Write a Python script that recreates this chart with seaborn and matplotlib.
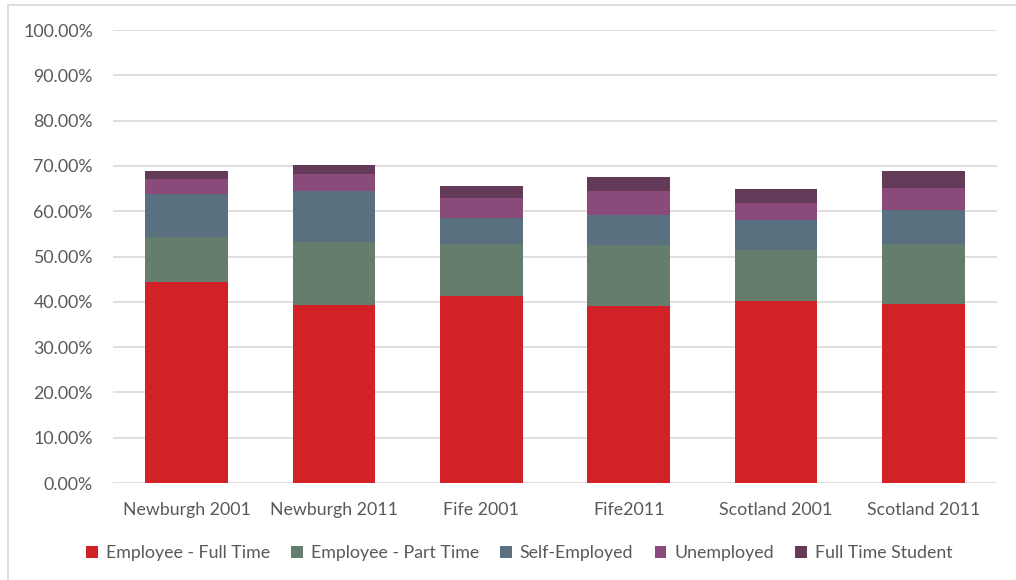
import matplotlib
matplotlib.use("Agg")
import matplotlib.pyplot as plt
import seaborn as sns
import pandas as pd
import numpy as np
from matplotlib.patches import Patch
from matplotlib.ticker import FuncFormatter

categories = ["Newburgh 2001", "Newburgh 2011", "Fife 2001", "Fife2011", "Scotland 2001", "Scotland 2011"]
full_time = [44.3, 39.3, 41.2, 39.1, 40.2, 39.6]
part_time = [10.1, 14.0, 11.6, 13.4, 11.2, 13.2]
self_employed = [9.5, 11.1, 5.7, 6.7, 6.6, 7.5]
unemployed = [3.1, 3.8, 4.5, 5.2, 3.8, 4.8]
student = [1.9, 2.1, 2.6, 3.1, 3.1, 3.8]

series_names = ["Employee - Full Time", "Employee - Part Time", "Self-Employed", "Unemployed", "Full Time Student"]
series_vals = [full_time, part_time, self_employed, unemployed, student]
colors = ["#D22127", "#657D6D", "#587080", "#8A4A7A", "#633A58"]

sns.set_theme(style="white")
plt.rcParams["font.family"] = ["Lato", "DejaVu Sans"]

fig = plt.figure(figsize=(10.16, 5.8), dpi=100)
ax = fig.add_axes([113/1016, 1 - 483/580, (997 - 113)/1016, (483 - 30)/580])

bottom = np.zeros(len(categories))
for name, vals, col in zip(series_names, series_vals, colors):
    df = pd.DataFrame({"cat": categories, "val": np.array(vals) / 100.0})
    sns.barplot(data=df, x="cat", y="val", bottom=bottom, color=col, width=0.56,
                ax=ax, saturation=1, edgecolor="none", linewidth=0, zorder=3)
    bottom = bottom + np.array(vals) / 100.0

ax.set_ylim(0, 1.0)
ax.set_xlim(-0.5, len(categories) - 0.5)
ax.set_yticks(np.arange(0, 1.01, 0.1))
ax.yaxis.set_major_formatter(FuncFormatter(lambda v, p: f"{v*100:.2f}%"))
ax.grid(axis="y", color="#D9D9D9", linewidth=1.2, zorder=0)
ax.grid(axis="x", visible=False)
for s in ax.spines.values():
    s.set_visible(False)
ax.set_xlabel("")
ax.set_ylabel("")
ax.tick_params(axis="y", length=0, pad=14.5, labelsize=12.8, labelcolor="#595959")
ax.tick_params(axis="x", length=0, pad=13.5, labelsize=12.8, labelcolor="#595959")

handles = [Patch(facecolor=c, edgecolor="none") for c in colors]
fig.legend(handles, series_names, loc="center", bbox_to_anchor=(0.511, 1 - 553/580), ncol=5,
           frameon=False, fontsize=12.8, labelcolor="#595959", handlelength=0.65, handleheight=0.65,
           handletextpad=0.45, columnspacing=1.2)

# outer chart frame
fig.add_artist(plt.Line2D([8/1016, 8/1016], [0, 1 - 5/580], transform=fig.transFigure, color="#D9D9D9", linewidth=1.2))
fig.add_artist(plt.Line2D([8/1016, 1.0], [1 - 5/580, 1 - 5/580], transform=fig.transFigure, color="#D9D9D9", linewidth=1.2))

fig.savefig("out.png", dpi=100)
